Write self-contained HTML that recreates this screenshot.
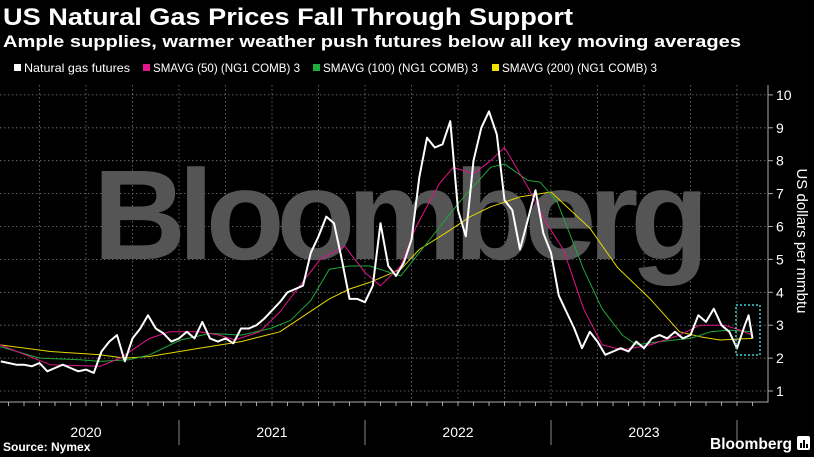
<!DOCTYPE html>
<html><head><meta charset="utf-8">
<style>
html,body{margin:0;padding:0;background:#000;}
svg{display:block;font-family:"Liberation Sans",sans-serif;}
</style></head>
<body>
<svg id="chart" width="814" height="457" viewBox="0 0 814 457" xmlns="http://www.w3.org/2000/svg">
<rect width="814" height="457" fill="#000"/>
<text x="3" y="25" fill="#fff" font-weight="bold" font-size="24" textLength="570" lengthAdjust="spacingAndGlyphs">US Natural Gas Prices Fall Through Support</text>
<text x="3" y="47" fill="#fff" font-weight="bold" font-size="17" textLength="738" lengthAdjust="spacingAndGlyphs">Ample supplies, warmer weather push futures below all key moving averages</text>
<g font-size="12" fill="#fff">
 <g><rect x="14" y="64" width="7" height="7" fill="#fff"/><text x="24" y="72" textLength="106" lengthAdjust="spacingAndGlyphs">Natural gas futures</text></g>
 <g><rect x="143" y="64" width="7" height="7" fill="#e8138e"/><text x="153" y="72" textLength="147" lengthAdjust="spacingAndGlyphs">SMAVG (50) (NG1 COMB) 3</text></g>
 <g><rect x="313" y="64" width="7" height="7" fill="#1fae3c"/><text x="323" y="72" textLength="155" lengthAdjust="spacingAndGlyphs">SMAVG (100) (NG1 COMB) 3</text></g>
 <g><rect x="492" y="64" width="7" height="7" fill="#f2e200"/><text x="502" y="72" textLength="155" lengthAdjust="spacingAndGlyphs">SMAVG (200) (NG1 COMB) 3</text></g>
</g>
<g id="grid"></g>
<text x="93" y="259" fill="#555" font-weight="bold" font-size="128" letter-spacing="-8" textLength="608" lengthAdjust="spacingAndGlyphs">Bloomberg</text>
<g id="series"></g>
<rect x="736" y="305" width="24" height="50" fill="none" stroke="#3fd0d0" stroke-width="1.5" stroke-dasharray="2,2"/>
<g id="axes"></g>
<text transform="translate(797,241) rotate(90)" text-anchor="middle" fill="#fff" font-size="15">US dollars per mmbtu</text>
<text x="3" y="451" fill="#fff" font-weight="bold" font-size="12">Source: Nymex</text>
<text x="710" y="449" fill="#fff" font-weight="bold" font-size="16" textLength="82" lengthAdjust="spacingAndGlyphs">Bloomberg</text>
<g><rect x="797" y="436" width="13" height="14" rx="2" fill="#fff"/><rect x="800" y="443" width="2" height="5" fill="#000"/><rect x="803" y="440" width="2" height="8" fill="#000"/><rect x="806" y="444" width="2" height="4" fill="#000"/></g>
</svg>
<script>
// price (month offsets from Jan 2020)
const priceT = [0.5,1,1.5,2,2.5,3,3.5,4,4.5,5,5.5,6,6.5,7,7.5,8,8.5,9,9.5,10,10.5,11,11.5,12,12.5,13,13.5,14,14.5,15,15.5,16,16.5,17,17.5,18,18.5,19,19.5,20,20.5,21,21.5,22,22.5,23,23.5,24,24.5,25,25.5,26,26.5,27,27.5,28,28.5,29,29.5,30,30.5,31,31.5,32,32.5,33,33.5,34,34.5,35,35.5,36,36.5,37,37.5,38,38.5,39,39.5,40,40.5,41,41.5,42,42.5,43,43.5,44,44.5,45,45.5,46,46.5,47,47.5,48,48.5,48.75,49];
const priceV = [1.9,1.85,1.8,1.8,1.75,1.85,1.6,1.7,1.8,1.7,1.6,1.65,1.55,2.2,2.5,2.7,1.9,2.6,2.9,3.3,2.9,2.75,2.5,2.6,2.8,2.6,3.1,2.6,2.5,2.6,2.45,2.9,2.9,3.0,3.2,3.45,3.7,4.0,4.1,4.2,5.2,5.7,6.3,6.1,5.0,3.8,3.8,3.7,4.2,6.1,4.8,4.5,4.9,5.6,7.5,8.7,8.4,8.5,9.2,6.5,5.7,8.0,9.0,9.5,8.8,6.8,6.5,5.3,6.2,7.1,5.8,5.2,3.9,3.4,2.9,2.3,2.8,2.5,2.1,2.2,2.3,2.2,2.5,2.3,2.6,2.7,2.6,2.8,2.6,2.7,3.3,3.1,3.5,3.0,2.8,2.3,3.0,3.3,2.6];
const sma50T = [0.45,3.7,6.9,8.2,10.1,11.4,13.3,14.6,15.6,17.2,18.5,19.8,21.1,22.7,24,25,26.3,27.3,28.8,29.7,31,32.1,33,34.5,35.7,36.8,38.1,39.3,40.6,42.4,44.3,45.6,47.2,48.2,49];
const sma50V = [2.4,1.8,1.75,2.0,2.6,2.8,2.8,2.7,2.55,2.8,3.4,4.2,5.0,5.4,4.6,4.2,4.8,6.0,7.3,7.8,7.6,8.0,8.4,7.2,6.1,5.3,3.5,2.4,2.25,2.4,2.7,3.0,3.0,2.85,2.7];
const sma100T = [0.45,3.0,5.6,6.9,8.8,10.1,12.1,14.0,16.0,17.9,19.2,20.5,21.7,23.0,24.3,26.3,28.0,30.1,32.1,33.0,34.5,35.3,36.4,38.1,39.3,40.6,41.5,43.0,45.0,46.3,47.5,49.0];
const sma100V = [2.35,2.0,1.95,1.9,1.95,2.1,2.55,2.75,2.7,2.9,3.15,3.75,4.7,4.8,4.8,4.5,5.5,6.75,7.8,7.9,7.4,7.35,6.75,4.7,3.5,2.7,2.4,2.5,2.6,2.8,2.85,2.8];
const sma200T = [0.45,3.7,6.9,8.5,10.1,13.3,16.0,18.5,20.1,21.7,23.0,24.3,26.3,27.5,29.2,30.8,32.1,34.0,36.0,38.5,40.3,42.4,44.3,45.6,46.9,49.0];
const sma200V = [2.4,2.2,2.1,2.0,2.05,2.3,2.5,2.8,3.3,3.8,4.1,4.3,4.7,5.3,5.8,6.3,6.6,6.9,7.05,5.95,4.75,3.8,2.8,2.65,2.55,2.6];
const yTicks = [1,2,3,4,5,6,7,8,9,10];
const yearLabels = ["2020","2021","2022","2023"];

const NS = "http://www.w3.org/2000/svg";
const X0 = -7, MONTH = 15.5, PR = 768, PB = 402, PT = 85;
function xs(t){ return X0 + t*MONTH; }
function ys(v){ return 391 - (v-1)*32.9; }
function mk(tag, attrs, parent){ const e=document.createElementNS(NS,tag); for(const k in attrs) e.setAttribute(k,attrs[k]); parent.appendChild(e); return e; }

const grid = document.getElementById('grid');
yTicks.forEach(v=>{
  const l = mk('line',{x1:0,x2:PR,y1:ys(v),y2:ys(v),stroke:'#777','stroke-width':0.8,'stroke-dasharray':'1.5,2.5'},grid);
  
  
});
for(let q=1;q<=16;q++){
  const x = xs(q*3);
  if(x>=PR) break;
  const l = mk('line',{x1:x,x2:x,y1:PT,y2:PB,stroke:'#777','stroke-width':0.8,'stroke-dasharray':'1.5,2.5'},grid);
  
  
}

const series = document.getElementById('series');
function line(T,V,color,w,name){
  const d = T.map((t,i)=>(i?'L':'M')+xs(t).toFixed(1)+','+ys(V[i]).toFixed(1)).join('');
  const p = mk('path',{d:d,fill:'none',stroke:color,'stroke-width':w,'stroke-linejoin':'round'},series);
  
  
}
line(sma200T,sma200V,'#e5d600',1,'sma200-line');
line(sma100T,sma100V,'#1fa83a',1,'sma100-line');
line(sma50T,sma50V,'#e0158a',1,'sma50-line');
line(priceT,priceV,'#fff',2,'futures-line');

const axes = document.getElementById('axes');
const ax = mk('path',{d:`M${PR},${PT}V${PB}H0`,fill:'none',stroke:'#aaa','stroke-width':1},axes);


yTicks.forEach(v=>{
  const t = mk('line',{x1:PR,x2:PR+5,y1:ys(v),y2:ys(v),stroke:'#aaa'},axes);
  
  
  const tx = mk('text',{x:PR+8,y:ys(v)+5,fill:'#fff','font-size':14},axes);
  tx.textContent = v;
  
  
});
for(let m=1;m<52;m++){
  const x = xs(m);
  if(x>=PR) break;
  const t = mk('line',{x1:x,x2:x,y1:PB,y2:PB+4,stroke:'#aaa'},axes);
  
  
}
yearLabels.forEach((y,i)=>{
  const tx = mk('text',{x:xs(i*12+6),y:437,fill:'#fff','font-size':14,'text-anchor':'middle'},axes);
  tx.textContent = y;
  
  
  const s = mk('line',{x1:xs((i+1)*12),x2:xs((i+1)*12),y1:420,y2:445,stroke:'#888'},axes);
  
  
});
</script>
</body></html>
